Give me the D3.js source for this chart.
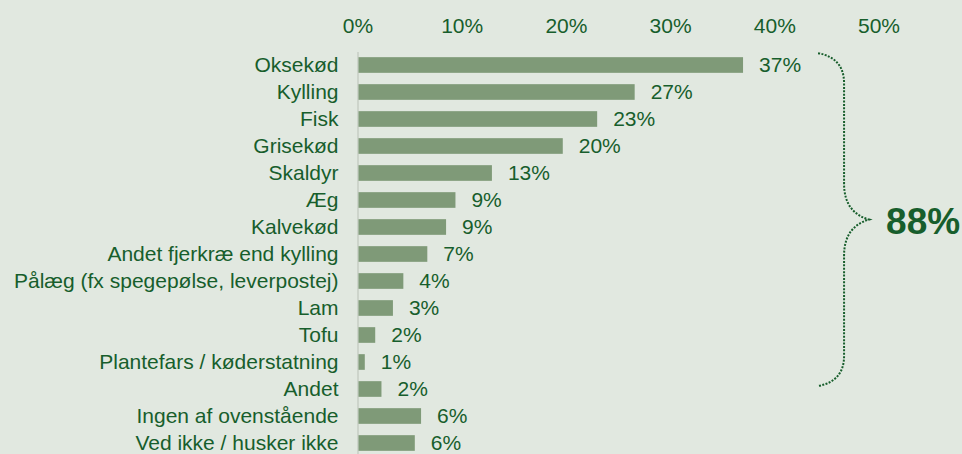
<!DOCTYPE html>
<html>
<head>
<meta charset="utf-8">
<script src="https://cdn.jsdelivr.net/npm/d3@7"></script>
<style>
  html, body { margin: 0; padding: 0; background: #e1e8e0; }
  svg { display: block; font-family: "Liberation Sans", Arial, sans-serif; }
</style>
</head>
<body>
<svg id="chart" width="962" height="454"></svg>
<script>
// categories, top to bottom
var categories = [
    "Oksekød", "Kylling", "Fisk", "Grisekød", "Skaldyr", "Æg", "Kalvekød",
    "Andet fjerkræ end kylling", "Pålæg (fx spegepølse, leverpostej)", "Lam",
    "Tofu", "Plantefars / køderstatning", "Andet", "Ingen af ovenstående",
    "Ved ikke / husker ikke"
];
// bar lengths (percent)
var values = [37.0, 26.6, 23.0, 19.7, 12.9, 9.4, 8.5, 6.7, 4.4, 3.4, 1.7, 0.7, 2.3, 6.1, 5.5];
// printed labels
var valueLabels = ["37%", "27%", "23%", "20%", "13%", "9%", "9%", "7%", "4%", "3%", "2%", "1%", "2%", "6%", "6%"];
var tickValues = [0, 10, 20, 30, 40, 50];
var braceFrom = "Oksekød", braceTo = "Andet";
var braceLabel = "88%";

var green = "#175e2c";
var barColor = "#7f9a78";

var svg = d3.select("#chart");

var x = d3.scaleLinear().domain([0, 50]).range([357.5, 878.5]);
var y = d3.scaleBand().domain(categories).range([51.5, 456.5])
    .paddingInner(0.42).paddingOuter(0.21);

// top axis
var xAxis = svg.append("g")
    .attr("transform", "translate(0,33)")
    .call(d3.axisTop(x).tickValues(tickValues).tickSize(0).tickPadding(0).tickFormat(d => d + "%"));
xAxis.select(".domain").remove();
xAxis.selectAll("text")
    .attr("fill", green)
    .style("font-size", "21px")
    .style("font-family", "\"Liberation Sans\", Arial, sans-serif");

// left axis with faint line
var yAxis = svg.append("g")
    .attr("transform", "translate(" + x(0) + ",0)")
    .call(d3.axisLeft(y).tickSize(0).tickSizeOuter(0).tickPadding(19));
yAxis.select(".domain").attr("stroke", "#c6cec5").attr("stroke-width", 1.5);
yAxis.selectAll("text")
    .attr("fill", green)
    .attr("dy", "0.35em")
    .style("font-size", "21px")
    .style("font-family", "\"Liberation Sans\", Arial, sans-serif");

// bars
svg.selectAll()
    .data(categories)
    .enter().append("rect")
    .attr("x", x(0) + 1)
    .attr("y", d => y(d))
    .attr("width", (d, i) => x(values[i]) - x(0) - 1)
    .attr("height", y.bandwidth())
    .attr("fill", barColor);

// value labels
svg.selectAll()
    .data(categories)
    .enter().append("text")
    .attr("x", (d, i) => x(values[i]) + 16)
    .attr("y", d => y(d) + y.bandwidth() / 2)
    .attr("dy", "0.35em")
    .attr("fill", green)
    .style("font-size", "21px")
    .text((d, i) => valueLabels[i]);

// dotted brace
var braceTop = y(braceFrom) - 4;
var braceBot = y(braceTo) + y.bandwidth() / 2 - 3;
var braceMid = (braceTop + braceBot) / 2;
var bx = x(44.2), sx = bx + 26, tx = bx + 51;
var p = d3.path();
p.moveTo(bx, braceTop);
p.bezierCurveTo(bx + 17, braceTop + 3, sx, braceTop + 13, sx, braceTop + 30);
p.lineTo(sx, braceMid - 36);
p.bezierCurveTo(sx, braceMid - 14, sx + 11, braceMid - 4, tx, braceMid);
p.bezierCurveTo(sx + 11, braceMid + 4, sx, braceMid + 14, sx, braceMid + 36);
p.lineTo(sx, braceBot - 30);
p.bezierCurveTo(sx, braceBot - 13, bx + 17, braceBot - 3, bx, braceBot);
svg.append("path")
    .attr("d", p.toString())
    .attr("fill", "none")
    .attr("stroke", green)
    .attr("stroke-width", 2)
    .attr("stroke-dasharray", "2,1.4");

svg.append("text")
    .attr("x", tx + 17)
    .attr("y", braceMid + 14)
    .attr("fill", green)
    .style("font-size", "37px")
    .style("font-weight", "bold")
    .text(braceLabel);
</script>
</body>
</html>
